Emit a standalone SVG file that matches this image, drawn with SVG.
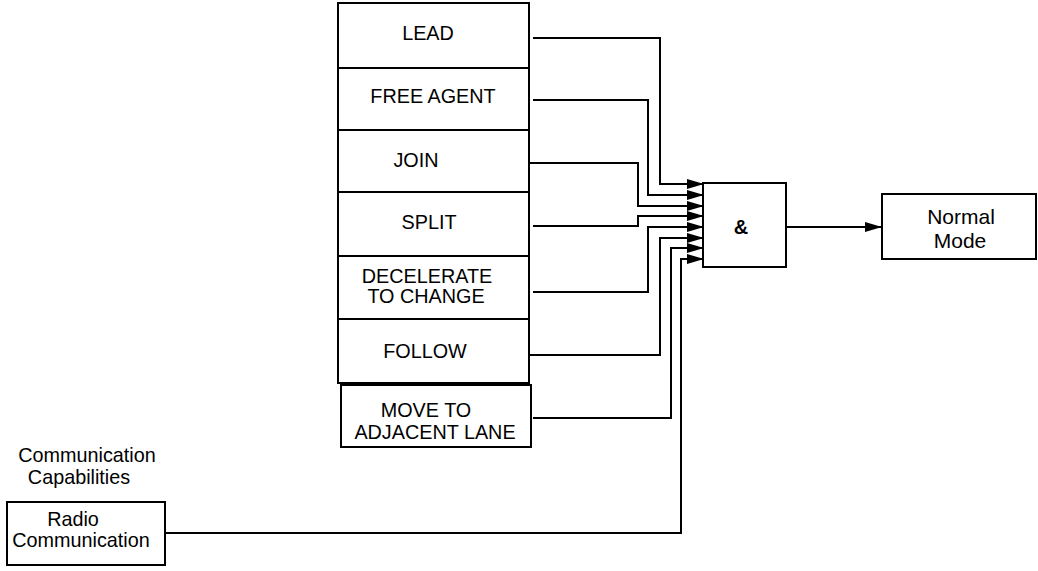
<svg xmlns="http://www.w3.org/2000/svg" width="1038" height="571" viewBox="0 0 1038 571">
<defs>
<marker id="ah" markerWidth="18" markerHeight="12" refX="17" refY="6" orient="auto" markerUnits="userSpaceOnUse">
<path d="M0,1 L17,6 L0,11 Z" fill="#000"/>
</marker>
<style>
.box{fill:#fff;stroke:#000;stroke-width:2}
.t{font-family:"Liberation Sans",Arial,sans-serif;font-size:19.8px;fill:#000;text-anchor:middle}
.c{fill:none;stroke:#000;stroke-width:2}
</style>
</defs>
<rect width="1038" height="571" fill="#fff"/>
<g id="connectors">
<polyline class="c" points="533,38 660,38 660,184 704,184" marker-end="url(#ah)"/>
<polyline class="c" points="533,100 648,100 648,195 704,195" marker-end="url(#ah)"/>
<polyline class="c" points="523,163 638,163 638,206 704,206" marker-end="url(#ah)"/>
<polyline class="c" points="533,226 638,226 638,216 704,216" marker-end="url(#ah)"/>
<polyline class="c" points="533,292 648,292 648,227 704,227" marker-end="url(#ah)"/>
<polyline class="c" points="523,355 660,355 660,238 704,238" marker-end="url(#ah)"/>
<polyline class="c" points="533,418 671,418 671,248 704,248" marker-end="url(#ah)"/>
<polyline class="c" points="165,533 681,533 681,259 704,259" marker-end="url(#ah)"/>
<line class="c" x1="786" y1="227" x2="882" y2="227" marker-end="url(#ah)"/>
</g>
<g id="lead"><rect class="box" x="338" y="3" width="191" height="65"/><text class="t" x="428" y="40">LEAD</text></g>
<g id="free-agent"><rect class="box" x="338" y="68" width="191" height="62"/><text class="t" x="433" y="103">FREE AGENT</text></g>
<g id="join"><rect class="box" x="338" y="130" width="191" height="62"/><text class="t" x="416" y="167">JOIN</text></g>
<g id="split"><rect class="box" x="338" y="192" width="191" height="64"/><text class="t" x="429" y="229">SPLIT</text></g>
<g id="decelerate"><rect class="box" x="338" y="256" width="191" height="63"/><text class="t" x="427" y="283">DECELERATE</text><text class="t" x="426" y="303">TO CHANGE</text></g>
<g id="follow"><rect class="box" x="338" y="319" width="191" height="64"/><text class="t" x="425" y="358">FOLLOW</text></g>
<g id="move"><rect class="box" x="341" y="385" width="190" height="62"/><text class="t" x="426" y="417">MOVE TO</text><text class="t" x="435" y="439">ADJACENT LANE</text></g>
<g id="and-gate"><rect class="box" x="703" y="183" width="83" height="84"/><text class="t" x="741" y="234" style="font-weight:bold;font-size:20px">&amp;</text></g>
<g id="normal-mode"><rect class="box" x="882" y="194" width="154" height="65"/><text class="t" x="961" y="224" style="font-size:21px">Normal</text><text class="t" x="960" y="248" style="font-size:21px">Mode</text></g>
<g id="comm-label"><text class="t" x="87" y="462">Communication</text><text class="t" x="79" y="484">Capabilities</text></g>
<g id="radio"><rect class="box" x="7" y="502" width="158" height="63"/><text class="t" x="73" y="526">Radio</text><text class="t" x="81" y="547">Communication</text></g>
</svg>
